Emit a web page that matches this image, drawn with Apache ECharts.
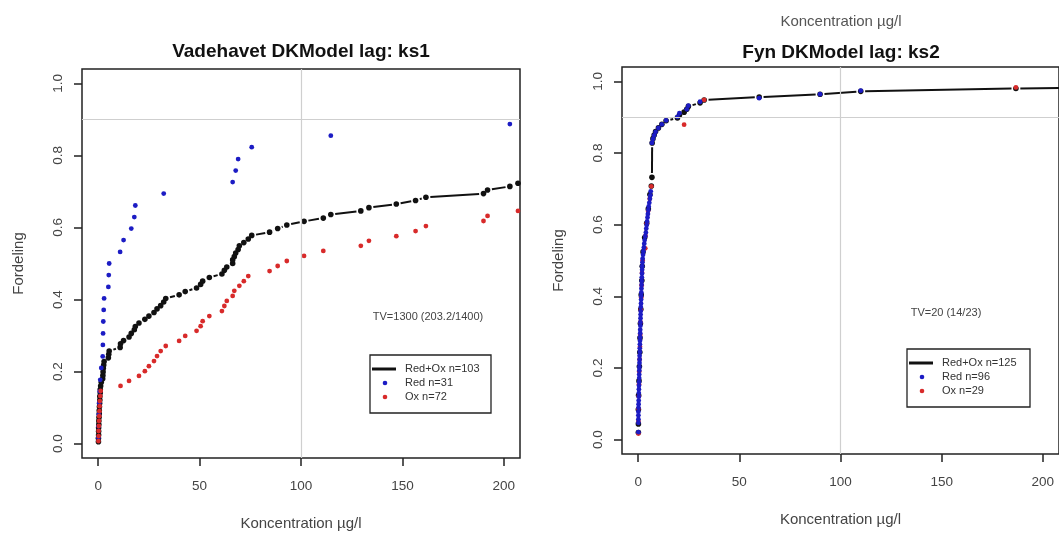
<!DOCTYPE html>
<html><head><meta charset="utf-8">
<script src="https://cdn.jsdelivr.net/npm/echarts@6/dist/echarts.min.js"></script>
<style>html,body{margin:0;padding:0;background:#fff}#c{width:1059px;height:536px}</style>
</head><body><div id="c"></div>
<script>
// ---------- data ----------
const xTicks = [0, 50, 100, 150, 200];
const yTicks = [0, 0.2, 0.4, 0.6, 0.8, 1.0];
const titles = ['Vadehavet DKModel lag: ks1', 'Fyn DKModel lag: ks2'];
const tvTexts = ['TV=1300 (203.2/1400)', 'TV=20 (14/23)'];
const legendLeft = ['Red+Ox n=103', 'Red n=31', 'Ox n=72'];
const legendRight = ['Red+Ox n=125', 'Red n=96', 'Ox n=29'];
const guideX = 100, guideY = 0.9;
const xName = 'Koncentration µg/l', yName = 'Fordeling';

// Vadehavet (left) – [concentration, fraction]
const vadehavetRedOx = [[0.1,0.005],[0.1,0.015],[0.2,0.024],[0.2,0.034],[0.2,0.044],[0.3,0.053],[0.3,0.063],[0.4,0.073],[0.5,0.083],[0.5,0.092],[0.6,0.102],[0.7,0.112],[0.8,0.121],[0.8,0.131],[1.0,0.141],[1.0,0.150],[1.2,0.160],[1.5,0.170],[2.2,0.180],[2.3,0.189],[2.4,0.199],[2.5,0.209],[2.7,0.218],[2.9,0.228],[5.0,0.238],[5.2,0.248],[5.4,0.257],[10.8,0.267],[11.0,0.277],[12.5,0.286],[15.2,0.296],[16.3,0.306],[17.8,0.316],[18.3,0.325],[20.1,0.335],[23.0,0.345],[25.0,0.354],[27.5,0.364],[29.0,0.374],[30.8,0.383],[32.3,0.393],[33.3,0.403],[39.9,0.413],[42.9,0.422],[48.5,0.432],[50.5,0.442],[51.5,0.451],[54.8,0.461],[61.0,0.471],[62.2,0.481],[63.4,0.490],[66.3,0.500],[66.3,0.510],[67.1,0.519],[67.8,0.529],[69.0,0.539],[69.6,0.549],[71.8,0.558],[74.0,0.568],[75.7,0.578],[84.5,0.587],[88.5,0.597],[93.0,0.607],[101.5,0.617],[111.0,0.626],[114.7,0.636],[129.5,0.646],[133.5,0.655],[147.0,0.665],[156.5,0.675],[161.6,0.684],[190.0,0.694],[192.0,0.704],[203.0,0.714],[207.0,0.723],[225.0,0.733]];
const vadehavetRed = [[0.1,0.016],[0.2,0.048],[0.3,0.081],[0.5,0.113],[0.8,0.145],[1.0,0.177],[1.5,0.210],[2.2,0.242],[2.3,0.274],[2.4,0.306],[2.5,0.339],[2.7,0.371],[2.9,0.403],[5.0,0.435],[5.2,0.468],[5.4,0.500],[10.8,0.532],[12.5,0.565],[16.3,0.597],[17.8,0.629],[18.3,0.661],[32.3,0.694],[66.3,0.726],[67.8,0.758],[69.0,0.790],[75.7,0.823],[114.7,0.855],[203.0,0.887]];
const vadehavetOx = [[0.1,0.007],[0.2,0.021],[0.2,0.035],[0.3,0.049],[0.4,0.063],[0.5,0.076],[0.6,0.090],[0.7,0.104],[0.8,0.118],[1.0,0.132],[1.2,0.146],[11.0,0.160],[15.2,0.174],[20.1,0.188],[23.0,0.201],[25.0,0.215],[27.5,0.229],[29.0,0.243],[30.8,0.257],[33.3,0.271],[39.9,0.285],[42.9,0.299],[48.5,0.313],[50.5,0.326],[51.5,0.340],[54.8,0.354],[61.0,0.368],[62.2,0.382],[63.4,0.396],[66.3,0.410],[67.1,0.424],[69.6,0.438],[71.8,0.451],[74.0,0.465],[84.5,0.479],[88.5,0.493],[93.0,0.507],[101.5,0.521],[111.0,0.535],[129.5,0.549],[133.5,0.563],[147.0,0.576],[156.5,0.590],[161.6,0.604],[190.0,0.618],[192.0,0.632],[207.0,0.646]];

// Fyn (right)
const fynRedOx = [[0.1,0.020],[0.1,0.044],[0.1,0.084],[0.2,0.124],[0.4,0.164],[0.6,0.204],[0.8,0.244],[0.9,0.284],[1.1,0.324],[1.3,0.364],[1.5,0.404],[1.8,0.444],[2.0,0.484],[2.4,0.524],[3.2,0.564],[4.2,0.604],[5.0,0.644],[5.8,0.684],[6.5,0.708],[6.8,0.732],[6.9,0.828],[7.3,0.840],[7.9,0.850],[8.6,0.860],[10.0,0.870],[11.7,0.880],[13.8,0.890],[19.4,0.898],[20.4,0.906],[22.7,0.914],[24.0,0.922],[24.8,0.930],[30.6,0.940],[32.6,0.948],[59.8,0.956],[89.9,0.964],[110.0,0.972],[186.7,0.980],[320.0,0.988]];
const fynRed = [[0.1,0.021],[0.1,0.047],[0.1,0.057],[0.1,0.068],[0.1,0.078],[0.15,0.089],[0.2,0.099],[0.25,0.109],[0.3,0.120],[0.3,0.130],[0.35,0.141],[0.4,0.151],[0.45,0.161],[0.5,0.172],[0.5,0.182],[0.55,0.193],[0.6,0.203],[0.65,0.214],[0.7,0.224],[0.7,0.234],[0.8,0.245],[0.8,0.255],[0.85,0.266],[0.9,0.276],[0.95,0.286],[1.0,0.297],[1.0,0.307],[1.1,0.318],[1.1,0.328],[1.15,0.339],[1.2,0.349],[1.25,0.359],[1.3,0.370],[1.4,0.380],[1.45,0.391],[1.5,0.401],[1.55,0.411],[1.6,0.422],[1.7,0.432],[1.75,0.443],[1.8,0.453],[1.9,0.464],[1.95,0.474],[2.0,0.484],[2.1,0.495],[2.2,0.505],[2.4,0.516],[2.6,0.526],[2.8,0.536],[3.0,0.547],[3.2,0.557],[3.5,0.568],[3.8,0.578],[4.0,0.589],[4.2,0.599],[4.4,0.609],[4.6,0.620],[4.8,0.630],[5.0,0.641],[5.2,0.651],[5.5,0.661],[5.8,0.672],[6.0,0.682],[6.2,0.693],[6.8,0.828],[7.3,0.839],[7.9,0.849],[8.6,0.859],[10.0,0.870],[11.7,0.880],[13.8,0.891],[19.4,0.901],[20.4,0.911],[24.0,0.922],[24.8,0.932],[30.6,0.943],[59.8,0.953],[89.9,0.964],[110.0,0.974]];
const fynOx = [[0.1,0.017],[0.1,0.052],[0.1,0.086],[0.3,0.121],[0.4,0.155],[0.5,0.190],[0.7,0.224],[0.9,0.259],[1.0,0.293],[1.1,0.328],[1.3,0.362],[1.5,0.397],[1.7,0.431],[1.9,0.466],[2.2,0.500],[3.5,0.534],[3.6,0.569],[4.2,0.603],[4.9,0.638],[5.7,0.672],[6.5,0.707],[22.7,0.879],[32.6,0.948],[186.7,0.983]];

// ---------- styling ----------
const FONT = '"Liberation Sans", Arial, Helvetica, sans-serif';
const BLUE = '#1c1cc4', RED = '#d82a2a', BLACK = '#111111';
const grids = [
  {left: 82, top: 69, width: 438, height: 391},
  {left: 622, top: 67, width: 438, height: 387}
];

function segments(pts) {
  const s = [];
  for (let i = 0; i < pts.length - 1; i++) s.push([pts[i][0], pts[i][1], pts[i + 1][0], pts[i + 1][1]]);
  return s;
}
function renderGap(params, api) {
  const a = api.coord([api.value(0), api.value(1)]);
  const b = api.coord([api.value(2), api.value(3)]);
  const dx = b[0] - a[0], dy = b[1] - a[1], d = Math.hypot(dx, dy), g = 4.4;
  if (d <= 2 * g) return null;
  const ux = dx / d, uy = dy / d;
  return {type: 'line', shape: {x1: a[0] + ux * g, y1: a[1] + uy * g, x2: b[0] - ux * g, y2: b[1] - uy * g},
    style: {stroke: BLACK, lineWidth: 2}};
}

const xAxes = [], yAxes = [], series = [];
[0, 1].forEach(i => {
  xAxes.push({type: 'value', gridIndex: i, min: -8, max: 208, position: 'bottom',
    splitLine: {show: false}, axisLine: {show: false, onZero: false},
    axisTick: {show: true, inside: false, length: 8, customValues: xTicks, lineStyle: {color: '#222', width: 1.5}},
    axisLabel: {customValues: xTicks, margin: 21, fontSize: 13.5, color: '#444', fontFamily: FONT},
    name: xName, nameLocation: 'middle', nameGap: 58,
    nameTextStyle: {fontSize: 15, color: '#444', fontFamily: FONT}});
  yAxes.push({type: 'value', gridIndex: i, min: -0.04, max: 1.04, position: 'left',
    splitLine: {show: false}, axisLine: {show: false, onZero: false},
    axisTick: {show: true, inside: false, length: 8, customValues: yTicks, lineStyle: {color: '#222', width: 1.5}},
    axisLabel: {customValues: yTicks, margin: 17, rotate: 90, fontSize: 13.5, color: '#444', fontFamily: FONT,
      formatter: v => v.toFixed(1)},
    name: yName, nameLocation: 'middle', nameGap: 56, nameRotate: 90,
    nameTextStyle: {fontSize: 15, color: '#444', fontFamily: FONT}});
});

function addPanel(i, redOx, red, ox, order) {
  series.push({type: 'custom', xAxisIndex: i, yAxisIndex: i, clip: true, silent: true,
    data: segments(redOx), encode: {x: [0, 2], y: [1, 3]}, renderItem: renderGap, z: 2});
  series.push({type: 'scatter', name: 'Red+Ox', xAxisIndex: i, yAxisIndex: i, data: redOx, symbolSize: 5.6,
    itemStyle: {color: BLACK, opacity: 1}, silent: true, z: 2,
    markLine: {silent: true, symbol: ['none', 'none'], label: {show: false},
      lineStyle: {color: '#cfcfcf', width: 1.2, type: 'solid'},
      data: [{yAxis: guideY}, {xAxis: guideX}]}});
  const sRed = {type: 'scatter', name: 'Red', xAxisIndex: i, yAxisIndex: i, data: red, symbolSize: 4.8,
    itemStyle: {color: BLUE, opacity: 1}, silent: true, z: 3};
  const sOx = {type: 'scatter', name: 'Ox', xAxisIndex: i, yAxisIndex: i, data: ox, symbolSize: 4.8,
    itemStyle: {color: RED, opacity: 1}, silent: true, z: 3};
  if (order === 'redFirst') series.push(sRed, sOx); else series.push(sOx, sRed);
}
addPanel(0, vadehavetRedOx, vadehavetRed, vadehavetOx, 'redFirst');
addPanel(1, fynRedOx, fynRed, fynOx, 'oxFirst');

function txt(x, y, text, size, color, weight) {
  return {type: 'text', x: x, y: y, silent: true, z: 10,
    style: {text: text, fontSize: size, fontFamily: FONT, fontWeight: weight || 'normal', fill: color,
      align: 'center', verticalAlign: 'middle'}};
}
function legendBox(x, y, w, h, labels) {
  const rowY = [y + 14, y + 28, y + 42];
  const els = [
    {type: 'rect', shape: {x: x, y: y, width: w, height: h}, style: {fill: '#fff', stroke: '#222', lineWidth: 1.3}, z: 10},
    {type: 'line', shape: {x1: x + 2, y1: rowY[0], x2: x + 26, y2: rowY[0]}, style: {stroke: BLACK, lineWidth: 3}, z: 11},
    {type: 'circle', shape: {cx: x + 15, cy: rowY[1], r: 2.3}, style: {fill: BLUE}, z: 11},
    {type: 'circle', shape: {cx: x + 15, cy: rowY[2], r: 2.3}, style: {fill: RED}, z: 11}
  ];
  labels.forEach((t, k) => els.push({type: 'text', x: x + 35, y: rowY[k], z: 11, silent: true,
    style: {text: t, fontSize: 11, fontFamily: FONT, fill: '#333', align: 'left', verticalAlign: 'middle'}}));
  return els;
}

const graphics = [
  txt(301, 52, titles[0], 19, '#111', 'bold'),
  txt(841, 53, titles[1], 19, '#111', 'bold'),
  txt(841, 22, xName, 15, '#555'),
  txt(428, 317, tvTexts[0], 11, '#444'),
  txt(946, 313, tvTexts[1], 11, '#444')
].concat(legendBox(370, 355, 121, 58, legendLeft), legendBox(907, 349, 123, 58, legendRight));

const chart = echarts.init(document.getElementById('c'), null, {renderer: 'canvas'});
chart.setOption({
  animation: false,
  backgroundColor: '#fff',
  grid: grids.map(g => Object.assign({show: true, borderColor: '#222', borderWidth: 1.5, backgroundColor: 'transparent'}, g)),
  xAxis: xAxes,
  yAxis: yAxes,
  series: series,
  graphic: graphics
});
</script></body></html>
